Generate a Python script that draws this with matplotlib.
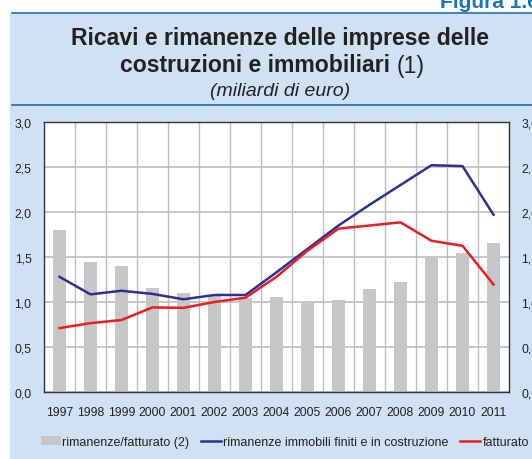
import matplotlib.pyplot as plt
import numpy as np
from matplotlib.patches import Rectangle
from matplotlib.lines import Line2D
from matplotlib.ticker import FixedLocator

plt.rcParams['font.family'] = ['Liberation Sans', 'DejaVu Sans']

years = ['1997', '1998', '1999', '2000', '2001', '2002', '2003', '2004',
         '2005', '2006', '2007', '2008', '2009', '2010', '2011']
rapporto = [1.80, 1.44, 1.40, 1.16, 1.10, 1.07, 1.04, 1.06,
            1.015, 1.026, 1.14, 1.225, 1.50, 1.55, 1.66]
rimanenze = [1.28, 1.085, 1.125, 1.09, 1.03, 1.078, 1.078, 1.33,
             1.59, 1.85, 2.08, 2.30, 2.52, 2.51, 1.97]
fatturato = [0.71, 0.765, 0.80, 0.94, 0.935, 1.00, 1.048, 1.28,
             1.57, 1.815, 1.85, 1.885, 1.68, 1.625, 1.195]

panel = '#cfe1f2'
dark_blue = '#1f6fa8'

W, H = 532, 460
fig = plt.figure(figsize=(W / 100, H / 100), dpi=100)
fig.patch.set_facecolor('white')

# background panel and rules
fig.patches.append(Rectangle((10 / W, 0), 1, 1 - 14 / H, transform=fig.transFigure,
                             facecolor=panel, edgecolor='none', zorder=-10))
fig.lines.append(Line2D([12 / W, 1], [1 - 13.5 / H] * 2, transform=fig.transFigure,
                        color=dark_blue, lw=1.2, zorder=-5))
fig.lines.append(Line2D([12 / W, 1], [1 - 106 / H] * 2, transform=fig.transFigure,
                        color=dark_blue, lw=1.2, zorder=-5))

fig.text(440 / W, 1 - 8.5 / H, 'Figura 1.6', color='#1a75bb', fontsize=15,
         fontweight='bold', ha='left', va='baseline')

fig.text(280 / W, 1 - 38 / H, 'Ricavi e rimanenze delle imprese delle', fontsize=16.6,
         fontweight='bold', ha='center', va='center', color='#222222')
t_bold = fig.text(0, 1 - 66 / H, 'costruzioni e immobiliari ', fontsize=16.6,
                  fontweight='bold', ha='left', va='center', color='#222222')
t_reg = fig.text(0, 1 - 66 / H, '(1)', fontsize=16.6, ha='left', va='center',
                 color='#222222')
fig.canvas.draw()
r = fig.canvas.get_renderer()
w1 = t_bold.get_window_extent(r).width
w2 = t_reg.get_window_extent(r).width
x0 = 272 - (w1 + w2) / 2
t_bold.set_x(x0 / W)
t_reg.set_x((x0 + w1) / W)
fig.text(280 / W, 1 - 92 / H, '(miliardi di euro)', fontsize=14, style='italic',
         ha='center', va='center', color='#222222')

ax = fig.add_axes([44 / W, 1 - 393 / H, (509 - 44) / W, (393 - 123) / H])
ax.set_facecolor('white')
x = np.arange(len(years))

bars = ax.bar(x, rapporto, width=0.42, color='#c6c7c9', zorder=2,
              label='rimanenze/fatturato (2)')
l_rim, = ax.plot(x, rimanenze, color='#2e3192', lw=1.8, zorder=3,
                 label='rimanenze immobili finiti e in costruzione')
l_fat, = ax.plot(x, fatturato, color='#ed1c24', lw=1.8, zorder=3, label='fatturato')

ax.set_xlim(-0.5, len(years) - 0.5)
ax.set_ylim(0, 3)
ax.set_xticks(x)
ax.set_xticklabels(years)
ax.xaxis.set_minor_locator(FixedLocator(x[:-1] + 0.5))
ax.set_yticks(np.arange(0, 3.01, 0.5))
ax.set_yticklabels([f'{v:.1f}'.replace('.', ',') for v in np.arange(0, 3.01, 0.5)])
ax.grid(axis='y', which='major', color='#bdbdbd', lw=1.2, zorder=1)
ax.grid(axis='x', which='minor', color='#bdbdbd', lw=1.0, zorder=1)
ax.set_axisbelow(True)
ax.tick_params(axis='both', which='both', length=0, labelsize=8.7, colors='#222222')
ax.tick_params(axis='y', labelright=True, pad=9)
ax.tick_params(axis='x', pad=10)
for s in ax.spines.values():
    s.set_color('#333333')
    s.set_linewidth(1.0)

fig.legend([bars, l_rim, l_fat],
           [bars.get_label(), l_rim.get_label(), l_fat.get_label()],
           loc='center', bbox_to_anchor=(0.535, 1 - 443 / H),
           ncol=3, frameon=False, fontsize=9, handlelength=1.6, handleheight=0.7,
           handletextpad=0.15, columnspacing=0.95, labelcolor='#222222')

fig.savefig('out.png', dpi=100, facecolor=fig.get_facecolor())
